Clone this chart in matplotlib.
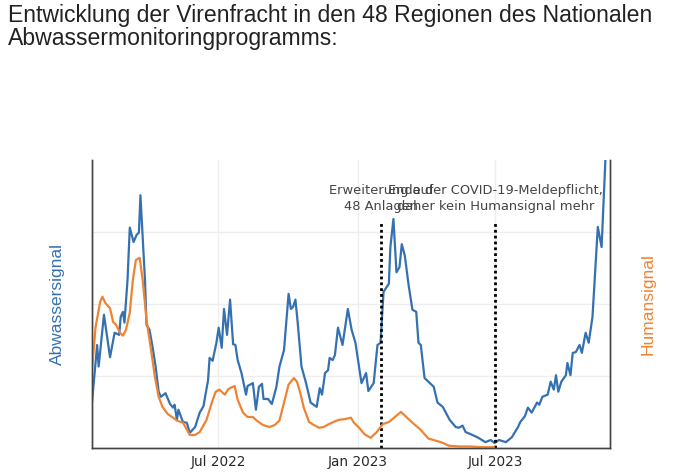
"""
Virenfracht im Abwasser vs. Humansignal (Nachbau des Plotly-Charts)
"""
import pandas as pd
import matplotlib
matplotlib.use('Agg')
import matplotlib.pyplot as plt
import matplotlib.dates as mdates

# Start der Zeitreihe, Tage danach
start = pd.Timestamp('2022-01-16')

# Abwassersignal (linke Achse)
tage_abwasser = [0, 7, 9, 16, 24, 30, 36, 38, 41, 43, 47, 50, 55, 59, 62, 64, 70, 72, 76, 80,
                 84, 88, 91, 97, 103, 107, 109, 112, 114, 120, 125, 129, 136, 142, 147, 153, 155, 159, 164, 167,
                 171, 174, 178, 182, 186, 189, 192, 197, 203, 205, 212, 216, 220, 224, 226, 232, 237, 243, 247, 253,
                 259, 262, 265, 268, 271, 276, 282, 288, 292, 296, 300, 303, 307, 311, 313, 317, 320, 324, 330, 337,
                 342, 347, 355, 361, 364, 371, 376, 380, 384, 391, 393, 397, 401, 405, 408, 412, 417, 422, 427, 430,
                 433, 438, 441, 450, 455, 462, 471, 479, 483, 488, 492, 501, 509, 518, 525, 530, 536, 545, 553, 561,
                 564, 570, 574, 579, 586, 589, 593, 600, 604, 608, 611, 614, 618, 624, 626, 630, 633, 637, 642, 645,
                 650, 654, 659, 666, 671, 676, 680]
abwasser = [0.60, 1.43, 1.13, 1.85, 1.26, 1.60, 1.57, 1.82, 1.89, 1.74, 2.33, 3.06, 2.86, 2.96, 2.99, 3.51, 2.33, 1.71, 1.64, 1.40,
            1.13, 0.78, 0.71, 0.76, 0.61, 0.56, 0.60, 0.39, 0.53, 0.36, 0.35, 0.21, 0.29, 0.49, 0.58, 0.94, 1.25, 1.21, 1.46, 1.67,
            1.39, 1.93, 1.57, 2.06, 1.44, 1.43, 1.22, 1.04, 0.74, 0.86, 0.90, 0.53, 0.85, 0.89, 0.68, 0.68, 0.61, 0.85, 1.13, 1.36,
            2.14, 1.93, 1.96, 2.06, 1.74, 1.13, 0.90, 0.63, 0.60, 0.57, 0.83, 0.74, 1.04, 1.08, 1.25, 1.22, 1.29, 1.67, 1.43, 1.93,
            1.64, 1.46, 0.90, 1.04, 0.79, 0.90, 1.43, 1.46, 2.17, 2.28, 2.79, 3.18, 2.44, 2.51, 2.83, 2.67, 2.26, 1.92, 1.89, 1.46,
            1.43, 0.97, 0.94, 0.85, 0.63, 0.57, 0.39, 0.29, 0.28, 0.31, 0.22, 0.18, 0.14, 0.08, 0.11, 0.07, 0.11, 0.08, 0.15, 0.29,
            0.36, 0.44, 0.56, 0.49, 0.63, 0.60, 0.71, 0.74, 0.92, 0.81, 1.01, 0.78, 0.92, 1.01, 1.18, 1.01, 1.32, 1.33, 1.43, 1.32,
            1.60, 1.46, 1.82, 3.07, 2.79, 4.00, 4.69]

# Humansignal (rechte Achse)
tage_human = [0, 5, 11, 14, 18, 24, 28, 32, 37, 41, 45, 50, 54, 58, 63, 67, 72, 78, 83, 88,
              93, 100, 107, 112, 120, 129, 136, 142, 151, 158, 163, 168, 175, 180, 188, 192, 199, 205, 212, 217,
              225, 234, 241, 247, 253, 259, 266, 270, 274, 279, 286, 292, 299, 305, 312, 318, 325, 333, 341, 345,
              351, 359, 367, 375, 383, 391, 399, 407, 414, 422, 433, 443, 453, 462, 470, 484, 497, 514, 529]
human = [1.06, 1.68, 2.03, 2.10, 2.01, 1.94, 1.75, 1.71, 1.60, 1.56, 1.64, 1.88, 2.33, 2.61, 2.64, 2.33, 1.78, 1.36, 0.99, 0.71,
         0.57, 0.47, 0.42, 0.38, 0.35, 0.18, 0.18, 0.22, 0.39, 0.63, 0.78, 0.81, 0.74, 0.82, 0.86, 0.67, 0.49, 0.43, 0.43, 0.38,
         0.32, 0.29, 0.32, 0.38, 0.63, 0.88, 0.97, 0.92, 0.78, 0.56, 0.36, 0.32, 0.28, 0.29, 0.33, 0.36, 0.39, 0.40, 0.42, 0.35,
         0.29, 0.19, 0.14, 0.22, 0.33, 0.36, 0.43, 0.50, 0.43, 0.35, 0.25, 0.13, 0.10, 0.07, 0.03, 0.02, 0.02, 0.01, 0.01]

# Ereignisse (gepunktete Linien)
ereignis_daten = ['2023-02-01', '2023-07-01']
ereignis_texte = ['Erweiterung auf\n48 Anlagen',
                  'Ende der COVID-19-Meldepflicht,\ndaher kein Humansignal mehr']

BLAU = '#3571b1'
ORANGE = '#ee8433'
GRID = '#eeeeee'
ACHSE = '#444444'

x_abw = start + pd.to_timedelta(tage_abwasser, unit='D')
x_hum = start + pd.to_timedelta(tage_human, unit='D')

fig = plt.figure(figsize=(6.8, 4.76), dpi=100)
ax = fig.add_axes([0.135, 0.059, 0.762, 0.605])
ax2 = ax.twinx()

ax.plot(x_abw, abwasser, color=BLAU, lw=1.6, zorder=3)
ax2.plot(x_hum, human, color=ORANGE, lw=1.6)

for d, txt in zip(ereignis_daten, ereignis_texte):
    ax.vlines(pd.Timestamp(d), 0, 3.14, colors='black', linestyles=(0, (1, 1.1)), lw=2.0, zorder=4)
    ax.text(pd.Timestamp(d), 3.26, txt, ha='center', va='bottom', fontsize=9.4,
            color='#444444', family='DejaVu Sans', multialignment='center', linespacing=1.32)

ax.set_xlim(start, start + pd.Timedelta(days=682))
for a in (ax, ax2):
    a.set_ylim(0, 4)
    a.set_yticks([])
ax.set_yticks([1, 2, 3])
ax.set_yticklabels([])
ax.set_xticks(pd.to_datetime(['2022-07-01', '2023-01-01', '2023-07-01']))
ax.xaxis.set_major_formatter(mdates.DateFormatter('%b %Y'))
ax.tick_params(length=0, pad=5, labelsize=9.8, labelcolor='#2a2a2a')
ax.grid(True, color=GRID, lw=1)
ax.set_axisbelow(True)

for a in (ax, ax2):
    a.spines['top'].set_visible(False)
    for s in ('left', 'bottom', 'right'):
        a.spines[s].set_color(ACHSE)
        a.spines[s].set_linewidth(1.0)

ax.set_ylabel('Abwassersignal', color=BLAU, fontsize=12.5, family='Liberation Sans', labelpad=14)
ax2.set_ylabel('Humansignal', color=ORANGE, fontsize=12.5, family='Liberation Sans', labelpad=22)

fig.text(0.012, 0.992, 'Entwicklung der Virenfracht in den 48 Regionen des Nationalen\nAbwassermonitoringprogramms:',
         ha='left', va='top', fontsize=16.6, family='Liberation Sans', color='#222222', linespacing=1.02)

plt.savefig('out.png', dpi=100, facecolor='white')
plt.close()
